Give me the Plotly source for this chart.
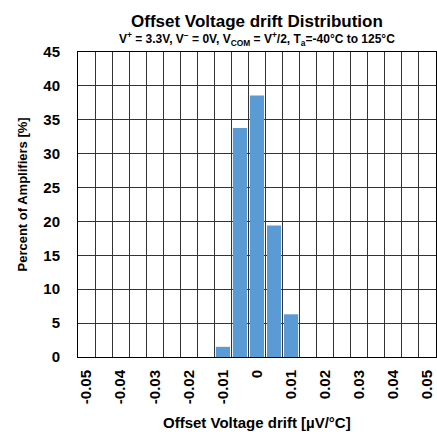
import plotly.graph_objects as go

bin_centers = [-0.01, -0.005, 0.0, 0.005, 0.01]
percent = [1.5, 33.8, 38.6, 19.4, 6.3]
x_ticks = [-0.05, -0.04, -0.03, -0.02, -0.01, 0, 0.01, 0.02, 0.03, 0.04, 0.05]
x_tick_text = ["-0.05", "-0.04", "-0.03", "-0.02", "-0.01", "0", "0.01", "0.02", "0.03", "0.04", "0.05"]
y_ticks = [0, 5, 10, 15, 20, 25, 30, 35, 40, 45]
bin_width = 0.005

edges = [round(-0.0525 + i * bin_width, 5) for i in range(22)]

font = "Liberation Sans, Arial, sans-serif"

fig = go.Figure()
fig.add_trace(go.Bar(
    x=bin_centers, y=percent, width=bin_width * 0.83,
    marker=dict(color="#5b9bd5", line=dict(width=0)),
))

fig.update_layout(
    width=437, height=432,
    margin=dict(l=78, r=1, t=52, b=75),
    paper_bgcolor="white", plot_bgcolor="white",
    showlegend=False,
    font=dict(family=font, color="black"),
    xaxis=dict(
        range=[-0.0525, 0.0525], automargin=False,
        tickmode="array", tickvals=x_ticks, ticktext=x_tick_text,
        tickangle=-90, tickfont=dict(size=15, family=font, color="black", weight="bold"),
        showgrid=False, zeroline=False,
        showline=True, linecolor="black", linewidth=1, mirror=True,
        ticks="", ticklabelstandoff=6,
        minor=dict(tickmode="array", tickvals=edges, showgrid=True,
                   gridcolor="#333333", gridwidth=1.2, ticks=""),
    ),
    yaxis=dict(
        range=[0, 45], automargin=False,
        tickmode="array", tickvals=y_ticks, ticktext=[str(v) for v in y_ticks],
        tickfont=dict(size=15, family=font, color="black", weight="bold"),
        showgrid=True, gridcolor="#333333", gridwidth=1.2,
        zeroline=False,
        showline=True, linecolor="black", linewidth=1, mirror=True,
        ticks="", ticklabelstandoff=14,
    ),
    annotations=[
        dict(text="Offset Voltage drift Distribution", xref="paper", yref="paper",
             x=0.5, y=1, yshift=31, xanchor="center", yanchor="middle", showarrow=False,
             font=dict(size=17, family=font, weight="bold")),
        dict(text="V<sup>+</sup> = 3.3V, V<sup>−</sup> = 0V, V<sub>COM</sub> = V<sup>+</sup>/2, T<sub>a</sub>=-40°C to 125°C",
             xref="paper", yref="paper", x=0.5, y=1, yshift=13, xanchor="center", yanchor="middle",
             showarrow=False, font=dict(size=12, family=font, weight="bold")),
        dict(text="Offset Voltage drift [µV/°C]", xref="paper", yref="paper",
             x=0.5, y=0, yshift=-65, xanchor="center", yanchor="middle", showarrow=False,
             font=dict(size=15, family=font, weight="bold")),
        dict(text="Percent of Amplifiers [%]", xref="paper", yref="paper",
             x=0, y=0.5, xshift=-56, yshift=10, xanchor="center", yanchor="middle", textangle=-90,
             showarrow=False, font=dict(size=13, family=font, weight="bold")),
    ],
)

fig.write_html("out.html", post_script="document.body.style.margin='0';",
               config={"displayModeBar": False})
